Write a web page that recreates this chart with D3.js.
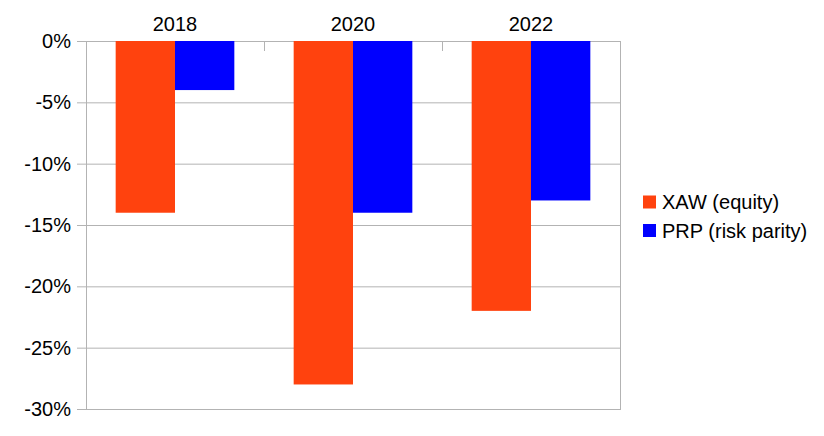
<!DOCTYPE html>
<html><head><meta charset="utf-8">
<script src="https://cdn.jsdelivr.net/npm/d3@7"></script>
<style>body{margin:0;background:#fff}svg{display:block}text{font-family:"Liberation Sans",Arial,sans-serif;fill:#000}</style>
</head><body>
<svg id="c" width="824" height="436"></svg>
<script>
const categories = ["2018", "2020", "2022"];
const seriesNames = ["XAW (equity)", "PRP (risk parity)"];
const xawValues = [-14, -28, -22];
const prpValues = [-4, -14, -13];
const yTicks = [0, -5, -10, -15, -20, -25, -30];
const colors = ["#ff420e", "#0000ff"];

const svg = d3.select("#c");
const L = 86, R = 620, T = 41, B = 409;
const FS = 20;
const x = d3.scaleBand().domain(categories).range([L, R]).paddingInner(0).paddingOuter(0);
const y = d3.scaleLinear().domain([0, -30]).range([T, B]);
const sub = d3.scaleBand().domain([0, 1]).range([0, x.bandwidth()]).paddingInner(0).paddingOuter(0.5);
const grid = "#b3b3b3";

// gridlines
svg.append("g").selectAll("line").data(yTicks).join("line")
  .attr("x1", L - 9).attr("x2", R).attr("y1", d => y(d) + 0.5).attr("y2", d => y(d) + 0.5)
  .attr("stroke", grid).attr("stroke-width", 1);
// left axis line and right border
svg.append("line").attr("x1", L + 0.5).attr("x2", L + 0.5).attr("y1", T).attr("y2", B + 1).attr("stroke", grid);
svg.append("line").attr("x1", R + 0.5).attr("x2", R + 0.5).attr("y1", T).attr("y2", B + 1).attr("stroke", grid);

// bars
const data = categories.map((c, i) => ({c, v: [xawValues[i], prpValues[i]]}));
const g = svg.append("g");
data.forEach(d => {
  d.v.forEach((v, s) => {
    g.append("rect")
      .attr("x", x(d.c) + sub(s)).attr("width", sub.bandwidth())
      .attr("y", y(0)).attr("height", y(v) - y(0))
      .attr("fill", colors[s]);
  });
});

// category ticks at top (inside)
svg.append("g").selectAll("line").data(categories.concat(["end"])).join("line")
  .attr("x1", (d, i) => L + i * x.bandwidth() + 0.5).attr("x2", (d, i) => L + i * x.bandwidth() + 0.5)
  .attr("y1", T).attr("y2", T + 10).attr("stroke", grid);

// y tick labels
svg.append("g").selectAll("text").data(yTicks).join("text")
  .attr("x", 71).attr("y", d => y(d)).attr("dy", "0.35em")
  .attr("text-anchor", "end").attr("font-size", FS)
  .text(d => d + "%");

// category labels
svg.append("g").selectAll("text").data(categories).join("text")
  .attr("x", d => x(d) + x.bandwidth() / 2).attr("y", 24).attr("dy", "0.35em")
  .attr("text-anchor", "middle").attr("font-size", FS)
  .text(d => d);

// legend
const lg = svg.append("g");
seriesNames.forEach((n, i) => {
  const cy = 202 + i * 28.5;
  lg.append("rect").attr("x", 643).attr("y", cy - 6.5).attr("width", 13).attr("height", 13).attr("fill", colors[i]);
  lg.append("text").attr("x", 662).attr("y", cy).attr("dy", "0.35em").attr("font-size", FS).text(n);
});
</script>
</body></html>
